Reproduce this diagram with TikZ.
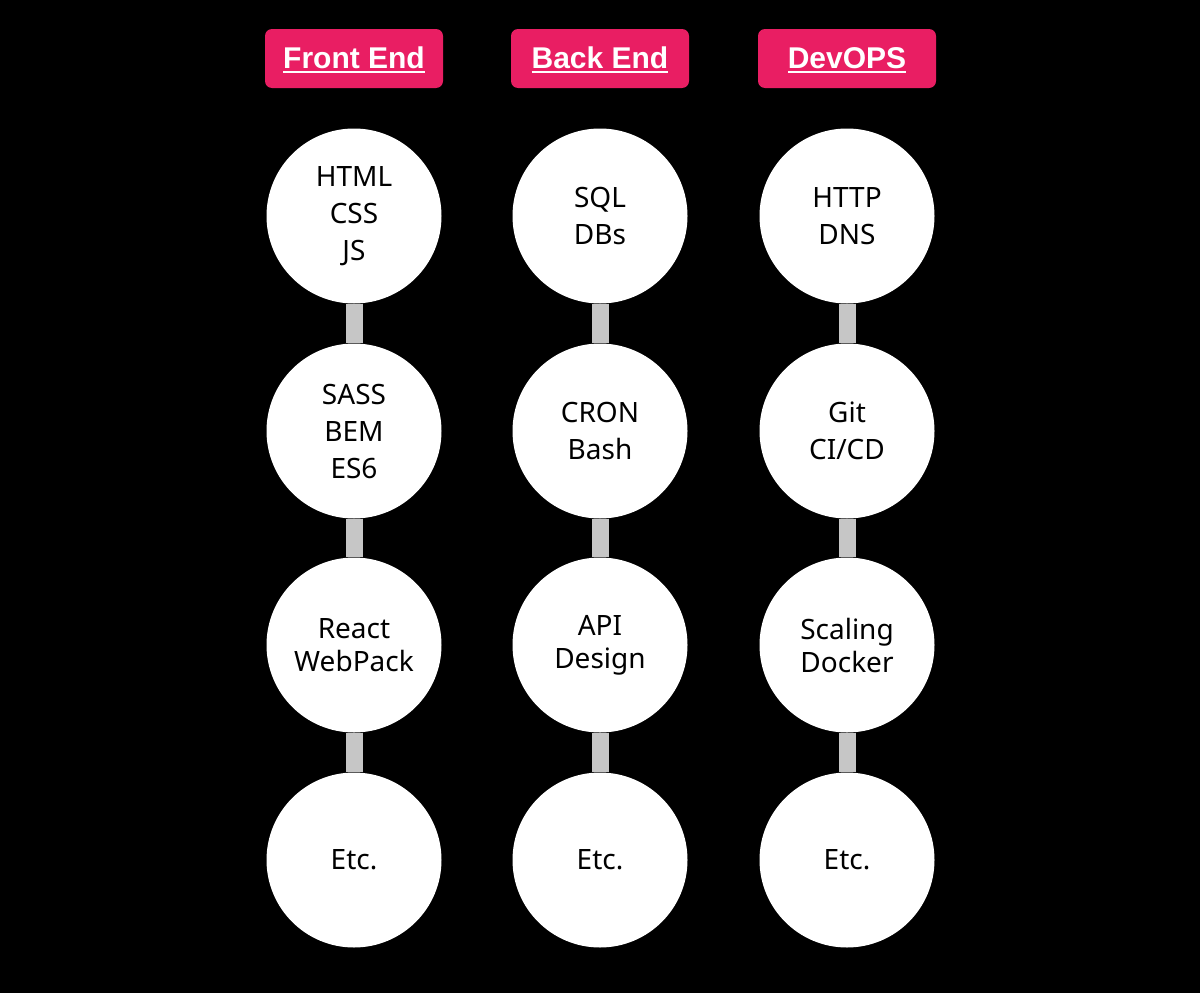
\documentclass[tikz,border=0pt]{standalone}
\usepackage{fontspec}
\setmainfont{Noto Sans}
\newfontfamily\hdfont{Liberation Sans}
\definecolor{hdpink}{RGB}{233,30,99}
\definecolor{bargray}{RGB}{198,198,198}
\newlength{\ulwd}
\newcommand{\ultext}[1]{\settowidth{\ulwd}{#1}#1\llap{\rule[-4.5pt]{\ulwd}{2pt}}}
\tikzset{
	topic/.style={circle,fill=white,minimum size=175pt,inner sep=0pt,align=center,
		font=\fontsize{28}{37}\selectfont},
	tight/.style={font=\fontsize{28}{33}\selectfont},
	header/.style={fill=hdpink,rounded corners=7pt,minimum width=178pt,minimum height=59pt,
		inner sep=0pt,text height=21pt,text depth=2pt,text=white,
		font=\hdfont\fontsize{30}{34}\bfseries\selectfont},
	bar/.style={draw=bargray,line width=17pt}
}

\begin{document}
\begin{tikzpicture}[x=1pt,y=-1pt]
		\fill[black] (0,0) rectangle (1200,993);
		\useasboundingbox (0,0) rectangle (1200,993);
		\node[header] (hfe) at (354,58.5) {\ultext{Front End}};
		\node[header] (hbe) at (600,58.5) {\ultext{Back End}};
		\node[header] (hop) at (847,58.5) {\ultext{DevOPS}};
		\node[topic] (fe1) at (354,216) {HTML\\CSS\\JS};
		\node[topic] (fe2) at (354,431) {SASS\\BEM\\ES6};
		\node[topic,tight] (fe3) at (354,645) {React\\WebPack};
		\node[topic] (fe4) at (354,860) {Etc.};
		\node[topic] (be1) at (600,216) {SQL\\DBs};
		\node[topic] (be2) at (600,431) {CRON\\Bash};
		\node[topic,tight] (be3) at (600,645) {API\\Design};
		\node[topic] (be4) at (600,860) {Etc.};
		\node[topic] (op1) at (847,216) {HTTP\\DNS};
		\node[topic] (op2) at (847,431) {Git\\CI/CD};
		\node[topic,tight] (op3) at (847,645) {Scaling\\Docker};
		\node[topic] (op4) at (847,860) {Etc.};
		\draw[bar]
		(fe1) to (fe2) (fe2) to (fe3) (fe3) to (fe4)
		(be1) to (be2) (be2) to (be3) (be3) to (be4)
		(op1) to (op2) (op2) to (op3) (op3) to (op4);
	\end{tikzpicture}
\end{document}
